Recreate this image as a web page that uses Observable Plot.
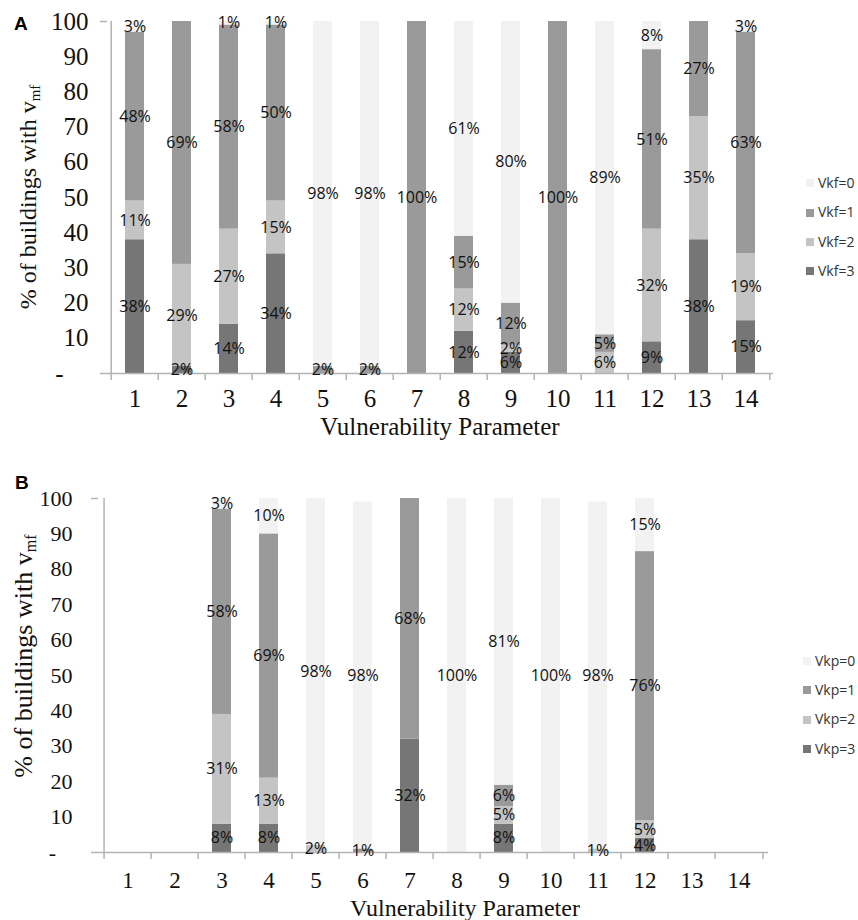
<!DOCTYPE html>
<html><head><meta charset="utf-8">
<script src="https://cdn.jsdelivr.net/npm/d3@7"></script>
<script src="https://cdn.jsdelivr.net/npm/@observablehq/plot@0.6"></script>
<style>
body{margin:0;background:#fff;}
#wrap{position:relative;width:858px;height:920px;overflow:hidden;background:#fff;}
.panel{position:absolute;left:0;}
.tag{position:absolute;font-family:"Liberation Sans",Arial,sans-serif;font-weight:bold;font-size:19px;color:#000;line-height:1;}
.ytitle{position:absolute;white-space:nowrap;font-family:"Liberation Serif",serif;color:#111;transform:translate(-50%,-50%) rotate(-90deg);line-height:1.1;}
.ytitle sub{font-size:0.62em;vertical-align:-0.25em;line-height:0;}
.xtitle{position:absolute;white-space:nowrap;font-family:"Liberation Serif",serif;color:#111;transform:translate(-50%,-50%);line-height:1.1;}
.leg{position:absolute;font-family:"Open Sans",sans-serif;font-size:14px;color:#333;height:20px;line-height:20px;white-space:nowrap;}
.leg i{display:inline-block;width:8px;height:8px;margin-right:4px;vertical-align:middle;position:relative;top:-1px;}
</style>
</head><body>
<div id="wrap"></div>
<script>
// ---------- data ----------
const params = [1,2,3,4,5,6,7,8,9,10,11,12,13,14];
const levels = [3,2,1,0]; // stacked bottom -> top
const levelColors = {0:"#f2f2f2",1:"#9a9a9a",2:"#c4c4c4",3:"#767676"};

// Panel A (Vkf)
const vkf0 = [3,0,1,1,98,98,0,61,80,0,89,8,0,3];
const vkf1 = [48,69,58,50,2,2,100,15,12,100,5,51,27,63];
const vkf2 = [11,29,27,15,0,0,0,12,2,0,6,32,35,19];
const vkf3 = [38,2,14,34,0,0,0,12,6,0,0,9,38,15];

// Panel B (Vkp)
const vkp0 = [0,0,3,10,98,98,0,100,81,100,98,15,0,0];
const vkp1 = [0,0,58,69,0,1,68,0,6,0,0,76,0,0];
const vkp2 = [0,0,31,13,2,0,0,0,5,0,1,5,0,0];
const vkp3 = [0,0,8,8,0,0,32,0,8,0,0,4,0,0];

const yTicks = [0,10,20,30,40,50,60,70,80,90,100];
const xTitle = "Vulnerability Parameter";

function buildRows(series){
  const rows = [];
  params.forEach((p,i)=>{
    let acc = 0;
    for (const k of levels){
      const v = series[k][i];
      rows.push({param:p, level:k, value:v, y1:acc, y2:acc+v});
      acc += v;
    }
  });
  return rows.filter(d=>d.value>0);
}

const axisColor = "#b3b3b3";
const serif = "Liberation Serif";

function chart(rows, o){
  const step = (o.width - o.marginLeft - o.marginRight)/params.length;
  return Plot.plot({
    width:o.width, height:o.height,
    marginTop:o.marginTop, marginBottom:o.marginBottom,
    marginLeft:o.marginLeft, marginRight:o.marginRight,
    style:{color:"#111", background:"transparent"},
    x:{type:"band", domain:params, paddingInner:0.6, paddingOuter:0.3, label:null},
    y:{domain:[0,100], label:null},
    marks:[
      Plot.barY(rows, {x:"param", y1:"y1", y2:"y2", fill:d=>levelColors[d.level]}),
      Plot.ruleX([params[0]], {dx:-step/2, stroke:axisColor, strokeWidth:1.5}),
      Plot.ruleY([0], {stroke:axisColor, strokeWidth:1.5}),
      Plot.axisY({ticks:yTicks, tickSize:0, tickPadding:o.yPad, label:null,
        tickFormat:d=>d===0 ? "-" + "\u00a0".repeat(o.dashPad) : String(d),
        fontSize:o.yFont, fontFamily:serif}),
      Plot.axisY({ticks:[0,100], tickSize:7, tickFormat:()=>"", label:null, stroke:axisColor, strokeWidth:1.5}),
      Plot.axisX({tickSize:7, tickFormat:()=>"", label:null, dx:-step/2, stroke:axisColor, strokeWidth:1.5}),
      Plot.axisX({ticks:[params[params.length-1]], tickSize:7, tickFormat:()=>"", label:null, dx:step/2, stroke:axisColor, strokeWidth:1.5}),
      Plot.axisX({tickSize:0, tickPadding:o.xPad, label:null, fontSize:o.xFont, fontFamily:serif}),
      Plot.text(rows, {x:"param", y:d=>(d.y1+d.y2)/2, text:d=>d.value+"%",
        fontSize:16, fontFamily:"Open Sans", fill:"#111"})
    ]
  });
}

const wrap = document.getElementById("wrap");

function addPanel(top, rows, o, tag, legendPrefix, leg, yT, xT){
  const svg = chart(rows, o);
  svg.classList.add("panel");
  svg.style.top = top + "px";
  wrap.appendChild(svg);

  const t = document.createElement("div");
  t.className = "tag"; t.textContent = tag;
  t.style.left = tag==="A" ? "14px" : "15px";
  t.style.top = (top + o.tagTop) + "px";
  wrap.appendChild(t);

  const yt = document.createElement("div");
  yt.className = "ytitle";
  yt.innerHTML = "% of buildings with v<sub>mf</sub>";
  yt.style.left = yT.x + "px"; yt.style.top = (top + yT.y) + "px";
  yt.style.fontSize = yT.size + "px";
  wrap.appendChild(yt);

  const xt = document.createElement("div");
  xt.className = "xtitle"; xt.textContent = xTitle;
  xt.style.left = xT.x + "px"; xt.style.top = (top + xT.y) + "px";
  xt.style.fontSize = xT.size + "px";
  wrap.appendChild(xt);

  [0,1,2,3].forEach((k,i)=>{
    const d = document.createElement("div");
    d.className = "leg";
    d.style.left = leg.x + "px";
    d.style.top = (top + leg.y0 + i*leg.dy - 10) + "px";
    d.innerHTML = `<i style="background:${levelColors[k]}"></i>${legendPrefix}=${k}`;
    wrap.appendChild(d);
  });
}

addPanel(0, buildRows({0:vkf0,1:vkf1,2:vkf2,3:vkf3}),
  {width:858, height:440, marginTop:21, marginBottom:67, marginLeft:107, marginRight:85,
   yPad:19, yFont:25, xPad:16, xFont:25, dashPad:4, tagTop:14},
  "A", "Vkf", {x:806, y0:183, dy:29.3},
  {x:28, y:197, size:24}, {x:440, y:427, size:25});

addPanel(440, buildRows({0:vkp0,1:vkp1,2:vkp2,3:vkp3}),
  {width:858, height:480, marginTop:58, marginBottom:68, marginLeft:98, marginRight:90,
   yPad:26, yFont:22, xPad:19, xFont:23, dashPad:3, tagTop:33},
  "B", "Vkp", {x:803, y0:221, dy:29.2},
  {x:24, y:216, size:26}, {x:465, y:468, size:24});
</script>
</body></html>
